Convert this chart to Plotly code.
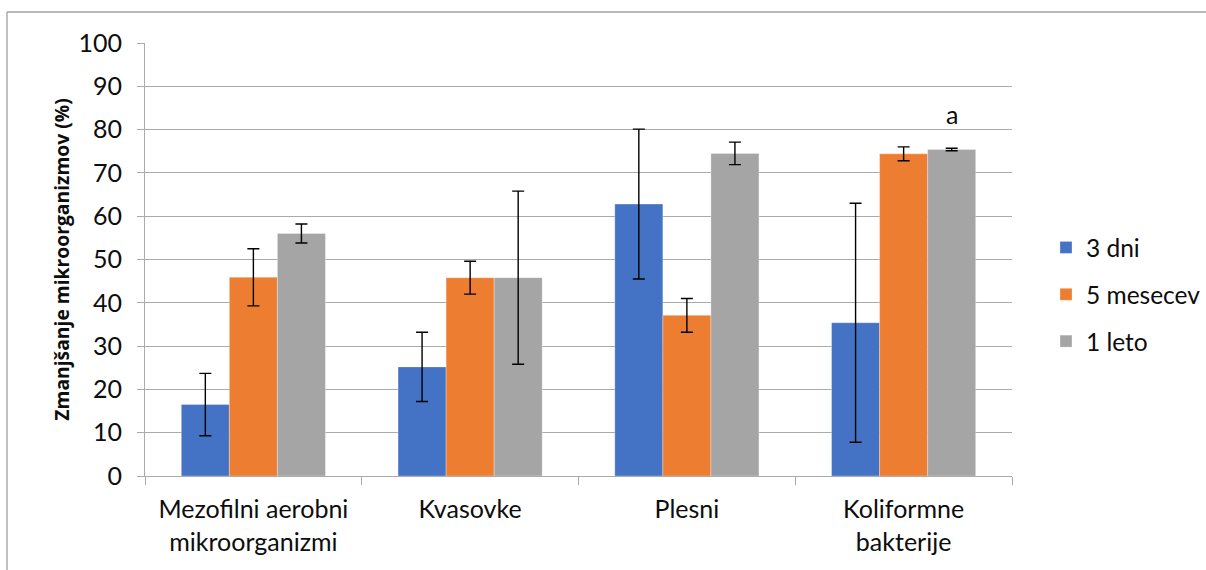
import plotly.graph_objects as go

# Data
categories = ["Mezofilni aerobni<br>mikroorganizmi", "Kvasovke", "Plesni", "Koliformne<br>bakterije"]
series_names = ["3 dni", "5 mesecev", "1 leto"]
values_3dni = [16.5, 25.2, 62.8, 35.4]
values_5mes = [45.9, 45.8, 37.1, 74.4]
values_1leto = [56.0, 45.8, 74.5, 75.4]
err_3dni = [7.2, 8.0, 17.3, 27.6]
err_5mes = [6.6, 3.8, 3.9, 1.6]
err_1leto = [2.2, 20.0, 2.6, 0.3]
note_label = "a"
note_value = 83.5

colors = ["#4472C4", "#ED7D31", "#A5A5A5"]
grid_color = "#ABABAB"
text_color = "#0d0d0d"
font_family = "Lato, Open Sans, sans-serif"
title_family = "Open Sans, Lato, sans-serif"

W, H = 1206, 570
ML, MR, MT, MB = 145, 194, 43, 94
plot_w = W - ML - MR
plot_h = H - MT - MB
bargap = 0.335

fig = go.Figure()
for name, vals, errs, col in zip(series_names,
                                 [values_3dni, values_5mes, values_1leto],
                                 [err_3dni, err_5mes, err_1leto],
                                 colors):
    fig.add_trace(go.Bar(
        x=categories, y=vals, name=name,
        marker=dict(color=col, line=dict(color="rgba(255,255,255,0.5)", width=0.6)),
        error_y=dict(type="data", array=errs, visible=True,
                     color="#000000", thickness=1.4, width=6),
        legendgroup=name,
    ))

# "a" label above the last grey bar
cat_w = plot_w / len(categories)
bar_w = cat_w * (1 - bargap) / 3
fig.add_annotation(
    x=categories[-1], y=note_value, xref="x", yref="y",
    xshift=bar_w, text=note_label, showarrow=False,
    font=dict(family=font_family, size=25, color=text_color),
)

# Chart frame (top and left edges)
def px_to_paper_x(px):
    return (px - ML) / plot_w

def py_to_paper_y(py):
    return (H - MB - py) / plot_h

frame_color = "#A0A0A0"
fig.add_shape(type="line", xref="paper", yref="paper",
              x0=px_to_paper_x(7), x1=px_to_paper_x(W + 5),
              y0=py_to_paper_y(12), y1=py_to_paper_y(12),
              line=dict(color=frame_color, width=1.3))
fig.add_shape(type="line", xref="paper", yref="paper",
              x0=px_to_paper_x(7), x1=px_to_paper_x(7),
              y0=py_to_paper_y(12), y1=py_to_paper_y(H + 5),
              line=dict(color=frame_color, width=1.3))

fig.update_layout(
    width=W, height=H,
    margin=dict(l=ML, r=MR, t=MT, b=MB, pad=0, autoexpand=False),
    paper_bgcolor="white", plot_bgcolor="white",
    barmode="group", bargap=bargap, bargroupgap=0,
    font=dict(family=font_family, color=text_color, size=25),
    legend=dict(
        x=px_to_paper_x(1046), y=py_to_paper_y(225),
        xanchor="left", yanchor="top",
        font=dict(size=24.5, color=text_color),
        tracegroupgap=12, itemwidth=30,
        bgcolor="rgba(0,0,0,0)",
    ),
    showlegend=True,
)

fig.update_yaxes(
    range=[0, 100], dtick=10, tick0=0,
    showgrid=True, gridcolor=grid_color, gridwidth=1.2,
    showline=True, linecolor=grid_color, linewidth=1.2,
    ticks="outside", ticklen=7, tickcolor=grid_color, tickwidth=1.2,
    tickfont=dict(size=25, color=text_color),
    ticklabelstandoff=10,
    zeroline=False,
    title=dict(text="<b>Zmanjšanje mikroorganizmov (%)</b>",
               font=dict(family=title_family, size=19.3, color=text_color), standoff=3),
)
fig.update_xaxes(
    type="category", tickson="boundaries",
    showline=True, linecolor=grid_color, linewidth=1.2,
    ticks="outside", ticklen=8, tickcolor=grid_color, tickwidth=1.2,
    ticklabelstandoff=11,
    showgrid=False,
    tickfont=dict(size=25, color=text_color),
)

fig.write_html("out.html")
